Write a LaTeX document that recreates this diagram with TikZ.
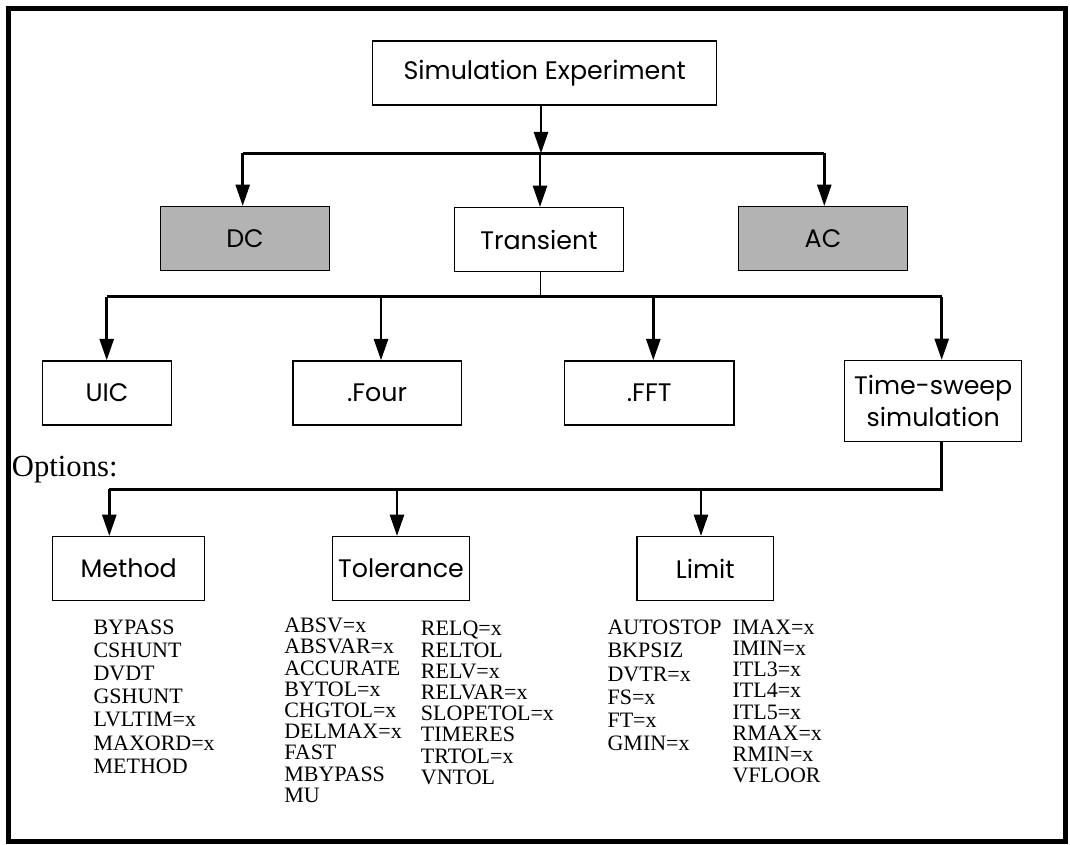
\documentclass[tikz,border=0pt]{standalone}
\usepackage{fontspec}
\setmainfont{Liberation Serif}
\newfontfamily\boxfont{Poppins}
\usetikzlibrary{arrows.meta}
\definecolor{boxgray}{RGB}{179,179,179}
\begin{document}
\begin{tikzpicture}[x=0.75pt,y=-0.75pt,
  box/.style={draw,line width=1.1pt,inner sep=0pt,minimum height=48pt,
    font=\boxfont\fontsize{19}{24.5}\selectfont,align=center},
  shaded/.style={box,fill=boxgray},
  bus/.style={line width=1.9pt},
  arr/.style={line width=2pt,-{Triangle[length=16pt,width=10.5pt]}},
  thinlink/.style={line width=0.8pt},
  % multi-line lists are anchored at the baseline of their last line
  optlist/.style={anchor=base west,inner sep=0pt,align=left,font=\fontsize{16.5}{15.9}\selectfont},
  optlistwide/.style={optlist,font=\fontsize{16.5}{17.4}\selectfont}]
\useasboundingbox (0,0) rectangle (1070,844);
\draw[line width=3.4pt] (8.3,8.5) rectangle (1065.7,841.5);

% top level
\node[box,minimum width=258pt] (sim) at (544.7,73) {Simulation Experiment};
\node[shaded,minimum width=126.5pt] (dc) at (245,238.7) {DC};
\node[box,minimum width=126.5pt] (tr) at (539,239.7) {Transient};
\node[shaded,minimum width=126.5pt] (ac) at (823,238.7) {AC};

\coordinate (j1) at (541,153.3);
\coordinate (j1dc) at (242.7,153.3);
\coordinate (j1tr) at (540,153.3);
\coordinate (j1ac) at (824.3,153.3);
\draw[arr] (sim.south -| j1) -- (j1);
\draw[bus] (j1dc) -- (j1ac);
\draw[arr] (j1dc) -- (j1dc |- dc.north);
\draw[arr] (j1tr) -- (j1tr |- tr.north);
\draw[arr] (j1ac) -- (j1ac |- ac.north);

% transient analyses
\node[box,minimum width=96.5pt] (uic) at (107,393) {UIC};
\node[box,minimum width=126.5pt] (four) at (377.1,393) {.Four};
\node[box,minimum width=127pt] (fft) at (649.2,393) {.FFT};
\node[box,minimum width=132.7pt,minimum height=60.5pt] (ts) at (933.2,401) {Time-sweep\\simulation};

\coordinate (j2) at (540.3,296.7);
\coordinate (j2uic) at (106.7,296.7);
\coordinate (j2four) at (381,296.7);
\coordinate (j2fft) at (653.3,296.7);
\coordinate (j2ts) at (941.7,296.7);
\draw[thinlink] (tr.south -| j2) -- (j2);
\draw[bus] (j2uic) -- (j2ts);
\draw[arr] (j2uic) -- (j2uic |- uic.north);
\draw[arr] (j2four) -- (j2four |- four.north);
\draw[arr] (j2fft) -- (j2fft |- fft.north);
\draw[arr] (j2ts) -- (j2ts |- ts.north);

\node[anchor=base west,inner sep=0pt,font=\fontsize{23}{25}\selectfont] (opt) at (11.7,476.7) {Options:};

% option groups
\node[box,minimum width=114pt] (meth) at (128.7,568.7) {Method};
\node[box,minimum width=103pt] (tol) at (401,568.7) {Tolerance};
\node[box,minimum width=102.5pt] (lim) at (705.3,568.7) {Limit};

\coordinate (j3ts) at (941.7,489.3);
\coordinate (j3meth) at (109.3,489.3);
\coordinate (j3tol) at (397,489.3);
\coordinate (j3lim) at (701,489.3);
\draw[bus] (ts.south -| j3ts) -- (j3ts) -- (j3meth);
\draw[arr] (j3meth) -- (j3meth |- meth.north);
\draw[arr] (j3tol) -- (j3tol |- tol.north);
\draw[arr] (j3lim) -- (j3lim |- lim.north);

% option keywords
\node[optlistwide] (methlist) at (93.3,773.3) {BYPASS\\CSHUNT\\DVDT\\GSHUNT\\LVLTIM=x\\MAXORD=x\\METHOD};
\node[optlist] (tolA) at (284,802.3) {ABSV=x\\ABSVAR=x\\ACCURATE\\BYTOL=x\\CHGTOL=x\\DELMAX=x\\FAST\\MBYPASS\\MU};
\node[optlist] (tolB) at (420.7,784.3) {RELQ=x\\RELTOL\\RELV=x\\RELVAR=x\\SLOPETOL=x\\TIMERES\\TRTOL=x\\VNTOL};
\node[optlistwide] (limA) at (607.3,750.7) {AUTOSTOP\\BKPSIZ\\DVTR=x\\FS=x\\FT=x\\GMIN=x};
\node[optlist] (limB) at (732.3,782.7) {IMAX=x\\IMIN=x\\ITL3=x\\ITL4=x\\ITL5=x\\RMAX=x\\RMIN=x\\VFLOOR};
\end{tikzpicture}
\end{document}
